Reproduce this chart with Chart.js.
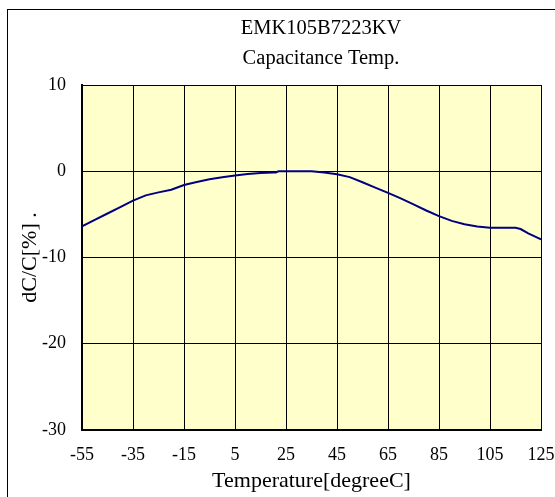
<!DOCTYPE html>
<html><head><meta charset="utf-8">
<script src="https://cdn.jsdelivr.net/npm/chart.js@4.4.1/dist/chart.umd.min.js"></script>
<style>html,body{margin:0;padding:0;background:#fff;}#wrap{width:555px;height:497px;}</style>
</head><body><div id="wrap"><canvas id="c" width="555" height="497"></canvas></div>
<script>
const titleLines = ['EMK105B7223KV', 'Capacitance Temp.'];
const xTitle = 'Temperature[degreeC]';
const yTitle = 'dC/C[%] .';
const temps = [-55,-50,-45,-40,-35,-30,-25,-20,-15,-10,-5,0,5,10,15,20,21,22,25,30,35,40,45,50,55,60,65,70,75,80,85,90,95,100,105,110,115,117,120,125];
const dcc   = [-6.4,-5.65,-4.9,-4.15,-3.4,-2.8,-2.45,-2.15,-1.6,-1.25,-0.92,-0.7,-0.48,-0.33,-0.2,-0.15,-0.15,0,0,0,0,-0.15,-0.35,-0.68,-1.28,-1.9,-2.5,-3.15,-3.85,-4.55,-5.2,-5.75,-6.15,-6.4,-6.55,-6.55,-6.55,-6.7,-7.2,-7.9];
const xTicks = [-55,-35,-15,5,25,45,65,85,105,125];
const yTicks = [-30,-20,-10,0,10];

const font = 'Liberation Serif';
const frame = {
  id:'frame',
  beforeDraw(chart){
    const ctx = chart.ctx;
    ctx.save();
    ctx.fillStyle = '#fff';
    ctx.fillRect(0,0,chart.width,chart.height);
    ctx.strokeStyle = '#000'; ctx.lineWidth = 1;
    ctx.strokeRect(7.5, 9.5, 600, 600);
    const a = chart.chartArea;
    ctx.fillStyle = '#FFFFCC';
    ctx.fillRect(a.left, a.top, a.right-a.left, a.bottom-a.top);
    ctx.restore();
  },
  afterDraw(chart){
    const ctx = chart.ctx;
    ctx.save();
    ctx.fillStyle = '#000';
    ctx.font = '20.5px "' + font + '"';
    ctx.textAlign = 'center'; ctx.textBaseline = 'middle';
    ctx.fillText(titleLines[0], 321, 29);
    ctx.fillText(titleLines[1], 321, 59);
    ctx.restore();
  }
};
new Chart(document.getElementById('c'), {
  type:'scatter',
  data:{datasets:[{data: temps.map((t,i)=>({x:t,y:dcc[i]})), showLine:true, borderColor:'#000080', borderWidth:2, pointRadius:0, tension:0, fill:false}]},
  options:{
    responsive:false, animation:false, devicePixelRatio:1,
    layout:{padding:{left:0,right:14,top:85,bottom:0}},
    plugins:{ legend:{display:false}, tooltip:{enabled:false}, title:{display:false} },
    scales:{
      x:{type:'linear', min:-55, max:125,
        afterBuildTicks(s){ s.ticks = xTicks.map(v=>({value:v})); },
        afterFit(s){ s.height = 67; s.paddingLeft = 0; s.paddingRight = 0; },
        ticks:{color:'#000', font:{family:font,size:18}, padding:14, maxRotation:0, autoSkip:false},
        grid:{color:'#000', lineWidth:1, drawTicks:false},
        border:{color:'#000', width:2},
        title:{display:true, text:xTitle, color:'#000', font:{family:font,size:22}, padding:{top:2,bottom:3}}
      },
      y:{type:'linear', min:-30, max:10,
        afterBuildTicks(s){ s.ticks = yTicks.map(v=>({value:v})); },
        afterFit(s){ s.width = 82; s.paddingTop = 0; s.paddingBottom = 0; },
        ticks:{color:'#000', font:{family:font,size:18}, padding:16},
        grid:{color:'#000', lineWidth:1, drawTicks:false},
        border:{color:'#000', width:2},
        title:{display:true, text:yTitle, color:'#000', font:{family:font,size:22}, padding:{top:17,bottom:4}}
      }
    }
  },
  plugins:[frame]
});
</script></body></html>
